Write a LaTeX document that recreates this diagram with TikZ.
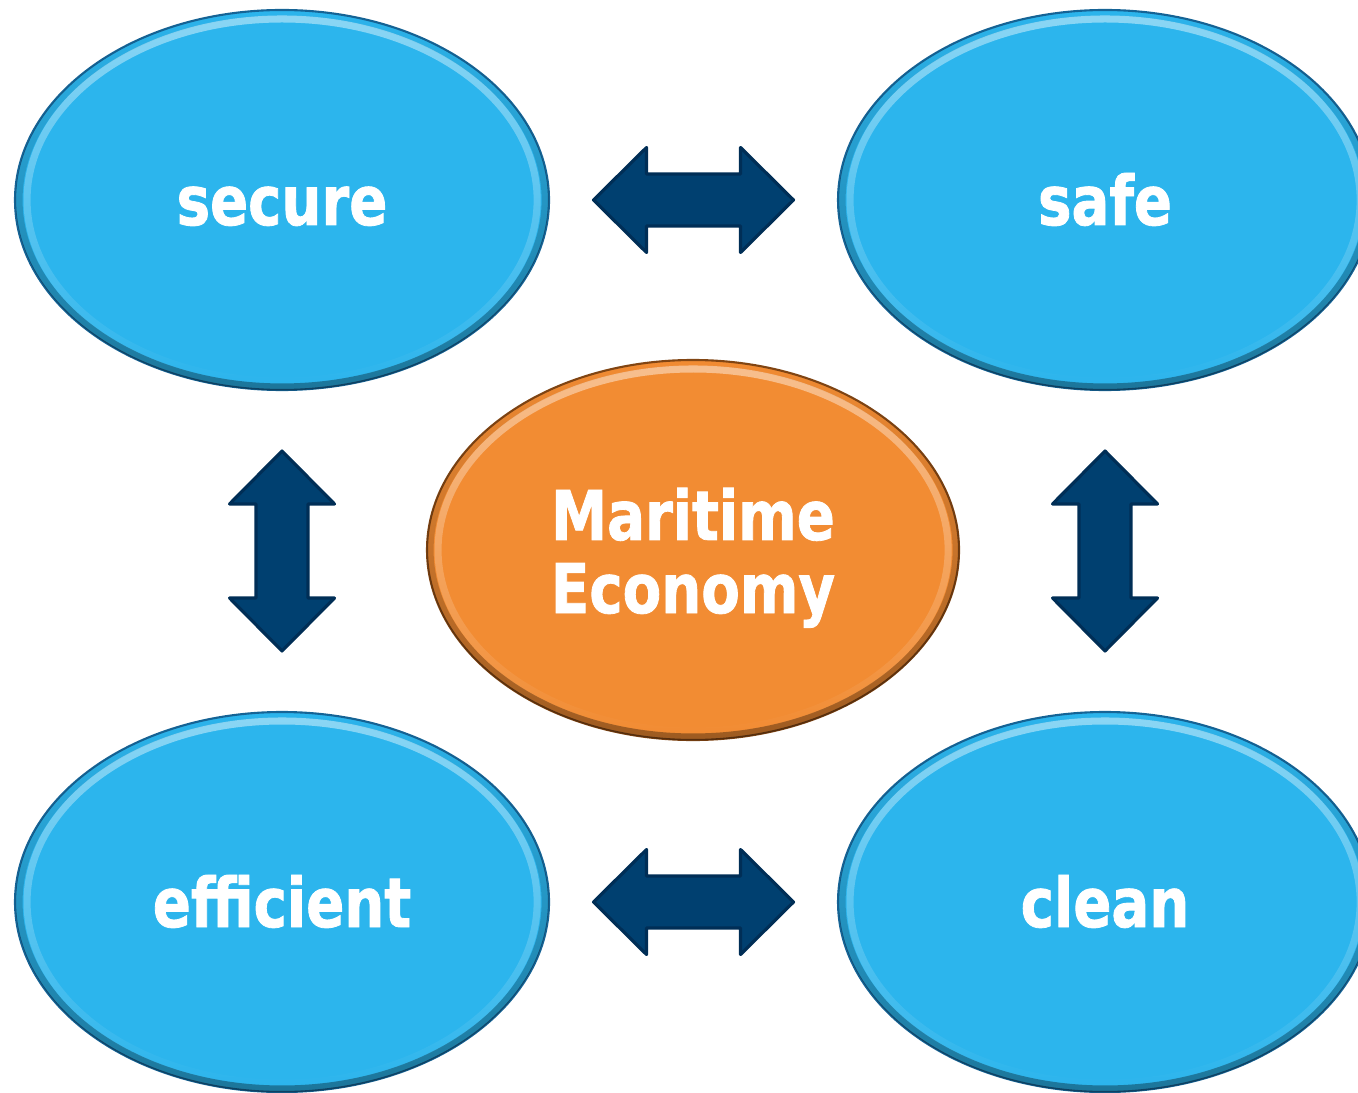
\documentclass[tikz,border=0pt]{standalone}
\usepackage{xcolor}
\usepackage{fontspec}
\newfontfamily\ovalfont{DejaVu Sans}[FakeStretch=0.82,FakeBold=1.2]
\usetikzlibrary{shapes.geometric,calc,fadings}

\definecolor{seablue}{RGB}{44,181,237}
\definecolor{seaedge}{RGB}{22,100,150}
\definecolor{seaorange}{RGB}{242,140,51}
\definecolor{orangeedge}{RGB}{130,70,20}
\definecolor{arrowblue}{RGB}{0,64,112}
\definecolor{arrowedge}{RGB}{0,46,86}

\tikzset{
    oval/.style = {ellipse, draw = seaedge, line width = 0.6pt, fill = seablue,
        minimum width = 5.34cm, minimum height = 3.8cm, inner sep = 0pt,
        text = white, align = center, text height = 0.5cm, text depth = 0cm,
        font = \ovalfont\bfseries\fontsize{19.5}{20.8}\selectfont},
    rimlight/.style = {white, opacity = 0.45, line width = 2pt, path fading = south},
    rimdark/.style = {black, opacity = 0.35, line width = 2pt, path fading = north},
    twoway/.pic = {
        \filldraw[fill = arrowblue, draw = arrowedge, line width = 0.9pt, line join = round]
            (-1, 0) -- (-0.47, 0.525) -- (-0.47, 0.26) -- (0.47, 0.26) -- (0.47, 0.525)
            -- (1, 0) -- (0.47, -0.525) -- (0.47, -0.26) -- (-0.47, -0.26)
            -- (-0.47, -0.525) -- cycle;
    }
}

\begin{document}
\begin{tikzpicture}
    \useasboundingbox (0, 0) rectangle (13.58, -10.92);
    \clip (0, 0) rectangle (13.58, -10.92);

    \node[oval] (secure) at (2.82, -2.00) {secure};
    \node[oval] (safe) at (11.05, -2.00) {safe};
    \node[oval] (efficient) at (2.82, -9.02) {efficient};
    \node[oval] (clean) at (11.05, -9.02) {clean};
    \node[oval, fill = seaorange, draw = orangeedge, minimum width = 5.32cm,
        text height = 1.46cm, text depth = 0.2cm] (economy) at (6.93, -5.50) {Maritime\\Economy};

    % bevelled rims
    \foreach \n in {secure,safe,efficient,clean,economy} {
        \draw[rimlight] (\n.center) ellipse [x radius = 2.55, y radius = 1.81];
        \draw[rimdark] (\n.center) ellipse [x radius = 2.63, y radius = 1.87];
    }

    \pic at ($(secure)!0.5!(safe)$) {twoway};
    \pic at ($(efficient)!0.5!(clean)$) {twoway};
    \pic[rotate = 90] at ($(secure)!0.5!(efficient)$) {twoway};
    \pic[rotate = 90] at ($(safe)!0.5!(clean)$) {twoway};
\end{tikzpicture}
\end{document}
